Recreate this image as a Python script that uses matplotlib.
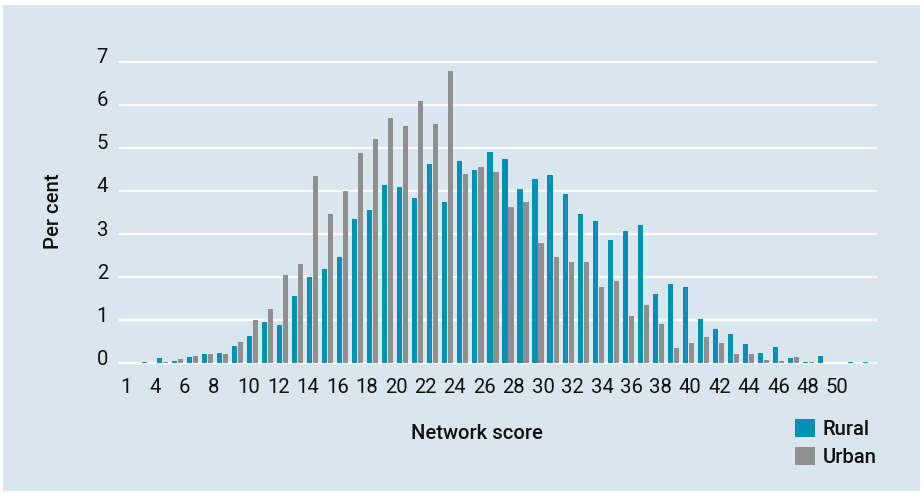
import matplotlib
matplotlib.use("Agg")
import matplotlib.pyplot as plt
import matplotlib.transforms as mtransforms
from matplotlib.patches import Patch, Rectangle
import numpy as np

# ---- data ----
scores = list(range(1, 51))
rural = [0, 0.04, 0.12, 0.05, 0.15, 0.22, 0.24, 0.40, 0.63, 0.96,
         0.89, 1.56, 2.00, 2.19, 2.47, 3.35, 3.56, 4.14, 4.09, 3.84,
         4.62, 3.74, 4.69, 4.49, 4.90, 4.74, 4.04, 4.28, 4.37, 3.93,
         3.46, 3.30, 2.86, 3.07, 3.21, 1.61, 1.84, 1.77, 1.03, 0.80,
         0.68, 0.45, 0.24, 0.38, 0.12, 0.02, 0.17, 0, 0.04, 0.02]
urban = [0, 0, 0.03, 0.10, 0.17, 0.22, 0.22, 0.49, 1.00, 1.26,
         2.05, 2.30, 4.35, 3.46, 4.00, 4.88, 5.20, 5.69, 5.51, 6.09,
         5.55, 6.78, 4.39, 4.55, 4.44, 3.63, 3.74, 2.79, 2.47, 2.35,
         2.35, 1.77, 1.91, 1.10, 1.35, 0.91, 0.36, 0.47, 0.61, 0.47,
         0.22, 0.22, 0.08, 0.05, 0.15, 0.04, 0, 0, 0, 0]
x_tick_labels = ["1"] + [str(v) for v in range(4, 51, 2)]
y_ticks = [0, 1, 2, 3, 4, 5, 6, 7]
series_names = ["Rural", "Urban"]

# ---- style ----
TEAL = "#0091b5"
GRAY = "#8f8f8f"
BG = "#dae6ed"
TXT = "#111111"
plt.rcParams["font.family"] = ["Roboto", "DejaVu Sans"]
FS = 14.6
FW = "medium"

W, H = 922, 494
fig = plt.figure(figsize=(W / 100, H / 100), dpi=100, facecolor="white")
fig.patches.append(Rectangle((3 / W, 1 - 491 / H), 917 / W, 486 / H,
                             transform=fig.transFigure, facecolor=BG,
                             edgecolor="none", zorder=-10))

ax_l, ax_r = 120, 876
ax_t, ax_b = 59.5, 365.5
ax = fig.add_axes([ax_l / W, 1 - ax_b / H, (ax_r - ax_l) / W, (ax_b - ax_t) / H])
ax.set_facecolor("none")

x = np.arange(len(scores))
bw = 0.34
ax.bar(x - 0.2, rural, width=bw, color=TEAL, zorder=3, label=series_names[0])
ax.bar(x + 0.2, urban, width=bw, color=GRAY, zorder=3, label=series_names[1])

ax.set_xlim(-0.5, len(scores) - 0.5)
ax.set_ylim(-0.05, 7.05)

for v in y_ticks:
    ax.axhline(v, color="white", lw=1.6, zorder=1, clip_on=False)

for s in ax.spines.values():
    s.set_visible(False)

ax.set_yticks(y_ticks)
ax.set_yticklabels([str(v) for v in y_ticks], fontsize=FS, color=TXT)
ax.tick_params(axis="y", length=0, pad=8.6)
off = mtransforms.ScaledTranslation(0, 6 / 100, fig.dpi_scale_trans)
for lab in ax.get_yticklabels():
    lab.set_transform(lab.get_transform() + off)

xt = np.linspace(-0.83, 46.16, len(x_tick_labels))
ax.set_xticks(xt)
ax.set_xticklabels(x_tick_labels, fontsize=FS, color=TXT, ha="left")
ax.tick_params(axis="x", length=0, pad=9.0)

ax.set_xlabel("Network score", fontsize=FS, color=TXT, va="baseline", fontweight=FW)
ax.xaxis.set_label_coords((476.5 - ax_l) / (ax_r - ax_l), (ax_b - 439.3) / (ax_b - ax_t))
ax.set_ylabel("Per cent", fontsize=FS, color=TXT, va="center", fontweight=FW)
ax.yaxis.set_label_coords((53.5 - ax_l) / (ax_r - ax_l), (ax_b - 211) / (ax_b - ax_t))

handles = [Patch(facecolor=TEAL, edgecolor="none"), Patch(facecolor=GRAY, edgecolor="none")]
fig.legend(handles, series_names, loc="upper left",
           bbox_to_anchor=(795 / W, 1 - 419 / H), frameon=False,
           borderpad=0, borderaxespad=0, handlelength=0.97, handleheight=1.0,
           handletextpad=0.4, labelspacing=0.4, labelcolor=TXT,
           prop={"size": FS, "weight": FW})

fig.savefig("out.png", dpi=100, facecolor="white")
